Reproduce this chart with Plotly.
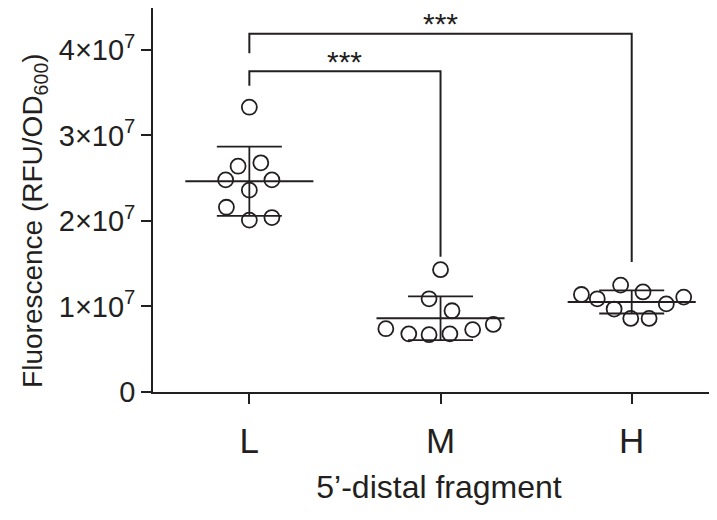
import numpy as np
import plotly.graph_objects as go

# ---- data ----
groups = ["L", "M", "H"]
L_vals = [3.33e7, 2.64e7, 2.68e7, 2.48e7, 2.48e7, 2.36e7, 2.16e7, 2.01e7, 2.04e7]
M_vals = [1.43e7, 1.09e7, 0.95e7, 0.74e7, 0.68e7, 0.67e7, 0.68e7, 0.73e7, 0.79e7]
H_vals = [1.14e7, 1.09e7, 1.25e7, 1.17e7, 0.97e7, 0.86e7, 0.86e7, 1.03e7, 1.11e7]
# horizontal scatter offsets of the points (category units)
L_jit = [0, -0.059, 0.06, -0.124, 0.118, 0, -0.12, 0, 0.118]
M_jit = [0, -0.06, 0.06, -0.286, -0.166, -0.06, 0.049, 0.168, 0.276]
H_jit = [-0.263, -0.18, -0.058, 0.059, -0.092, -0.005, 0.091, 0.181, 0.272]
y_tickvals = [0, 1e7, 2e7, 3e7, 4e7]
y_ticktext = ["0", "1×10<sup>7</sup>", "2×10<sup>7</sup>", "3×10<sup>7</sup>", "4×10<sup>7</sup>"]
# significance brackets: (group a, group b, bar level, end at a, end at b, label)
brackets = [
    (0, 1, 3.75e7, 3.58e7, 1.58e7, "***"),
    (0, 2, 4.19e7, 3.96e7, 1.52e7, "***"),
]
x_title = "5’-distal fragment"
y_title = "Fluorescence (RFU/OD<sub>600</sub>)"

INK = "#231f20"
FONT = "Arial, Liberation Sans, sans-serif"

fig = go.Figure()

all_vals = [L_vals, M_vals, H_vals]
all_jit = [L_jit, M_jit, H_jit]

for i, (vals, jit) in enumerate(zip(all_vals, all_jit)):
    xs = [i + j for j in jit]
    fig.add_trace(go.Scatter(
        x=xs, y=vals, mode="markers",
        marker=dict(symbol="circle", size=15, color="white",
                    line=dict(color=INK, width=1.8)),
        showlegend=False, hoverinfo="skip"))

MEAN_HW = 0.335
CAP_HW = 0.17
for i, vals in enumerate(all_vals):
    m = float(np.mean(vals))
    s = float(np.std(vals, ddof=1))
    fig.add_trace(go.Scatter(x=[i - MEAN_HW, i + MEAN_HW], y=[m, m], mode="lines",
                             line=dict(color=INK, width=2), showlegend=False, hoverinfo="skip"))
    fig.add_trace(go.Scatter(
        x=[i, i, None, i - CAP_HW, i + CAP_HW, None, i - CAP_HW, i + CAP_HW],
        y=[m - s, m + s, None, m + s, m + s, None, m - s, m - s],
        mode="lines", line=dict(color=INK, width=1.8), showlegend=False, hoverinfo="skip"))

for a, b, lvl, ea, eb, lab in brackets:
    fig.add_trace(go.Scatter(x=[a, a, b, b], y=[ea, lvl, lvl, eb], mode="lines",
                             line=dict(color=INK, width=2), showlegend=False, hoverinfo="skip"))
    fig.add_annotation(x=(a + b) / 2, y=lvl, text=lab, showarrow=False,
                       yanchor="middle", yshift=10,
                       font=dict(family=FONT, size=30, color=INK))

# y-axis title as a rotated annotation (placed slightly below the plot centre, as in the reference)
fig.add_annotation(xref="paper", yref="paper", x=-0.206, y=0.446, text=y_title,
                   textangle=-90, showarrow=False, xanchor="center", yanchor="middle",
                   font=dict(family=FONT, size=28, color=INK))

fig.update_layout(
    width=717, height=520,
    margin=dict(l=145, r=0, t=0, b=136),
    plot_bgcolor="white", paper_bgcolor="white",
    font=dict(family=FONT, color=INK),
    showlegend=False,
)
fig.update_xaxes(
    range=[-0.504, 2.488], tickvals=[0, 1, 2], ticktext=groups,
    showline=True, linecolor=INK, linewidth=1.6,
    ticks="outside", ticklen=10, tickwidth=1.6, tickcolor=INK,
    tickfont=dict(size=35, color=INK), ticklabelstandoff=7,
    showgrid=False, zeroline=False,
    title=dict(text=x_title, font=dict(size=32, color=INK), standoff=17),
)
fig.update_yaxes(
    range=[0, 4.49e7], tickvals=y_tickvals, ticktext=y_ticktext,
    showline=True, linecolor=INK, linewidth=1.6,
    ticks="outside", ticklen=10, tickwidth=1.6, tickcolor=INK,
    tickfont=dict(size=29, color=INK),
    showgrid=False, zeroline=False,
)

fig.write_html("out.html")
